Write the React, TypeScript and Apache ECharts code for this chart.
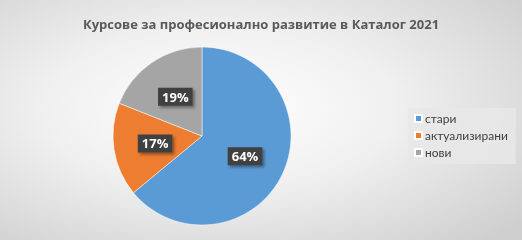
import React, { useEffect, useRef } from "react";
import * as echarts from "echarts";

const categories = ["стари", "актуализирани", "нови"];
const values = [64, 17, 19];
const colors = ["#5b9bd5", "#ed7d31", "#a5a5a5"];
const titleText = "Курсове за професионално развитие в Каталог 2021";

export default function App() {
  const ref = useRef<HTMLDivElement>(null);
  useEffect(() => {
    document.body.style.margin = "0";
    const chart = echarts.init(ref.current!, null, { renderer: "svg" });
    chart.setOption({
      animation: false,
      backgroundColor: {
        type: "radial",
        x: 0.42,
        y: 0.45,
        r: 0.75,
        colorStops: [
          { offset: 0, color: "#ffffff" },
          { offset: 0.45, color: "#f0f0f0" },
          { offset: 1, color: "#cfcfcf" },
        ],
      },
      title: {
        text: titleText,
        left: "center",
        top: 12,
        textStyle: {
          fontFamily: "Open Sans",
          fontSize: 13,
          fontWeight: "bold",
          color: "#595959",
        },
      },
      legend: {
        orient: "vertical",
        left: 408,
        top: 108,
        backgroundColor: "rgba(232,232,232,0.85)",
        padding: [4, 8, 5, 6],
        itemWidth: 7,
        itemHeight: 7,
        itemGap: 4,
        icon: "rect",
        data: categories,
        textStyle: {
          fontFamily: "Lato",
          fontSize: 12,
          lineHeight: 13,
          color: "#404040",
          padding: [0, 0, 0, -2],
        },
      },
      series: [
        {
          type: "pie",
          center: [202, 136],
          radius: 89,
          startAngle: 90,
          clockwise: true,
          data: categories.map((name, i) => ({
            name,
            value: values[i],
            itemStyle: { color: colors[i] },
          })),
          itemStyle: { borderColor: "#ffffff", borderWidth: 0.5 },
          label: {
            show: true,
            position: "inside",
            formatter: "{d}%",
            fontFamily: "Open Sans",
            fontSize: 13,
            fontWeight: "bold",
            color: "#ffffff",
            backgroundColor: "#404040",
            padding: [3, 4, 2, 4],
            shadowColor: "rgba(0,0,0,0.4)",
            shadowBlur: 3,
            shadowOffsetX: 2,
            shadowOffsetY: 2,
          },
          labelLine: { show: false },
          emphasis: { disabled: true },
        },
      ],
    });
    return () => chart.dispose();
  }, []);
  return (
    <div
      ref={ref}
      style={{ width: 522, height: 240, position: "fixed", left: 0, top: 0 }}
    />
  );
}
